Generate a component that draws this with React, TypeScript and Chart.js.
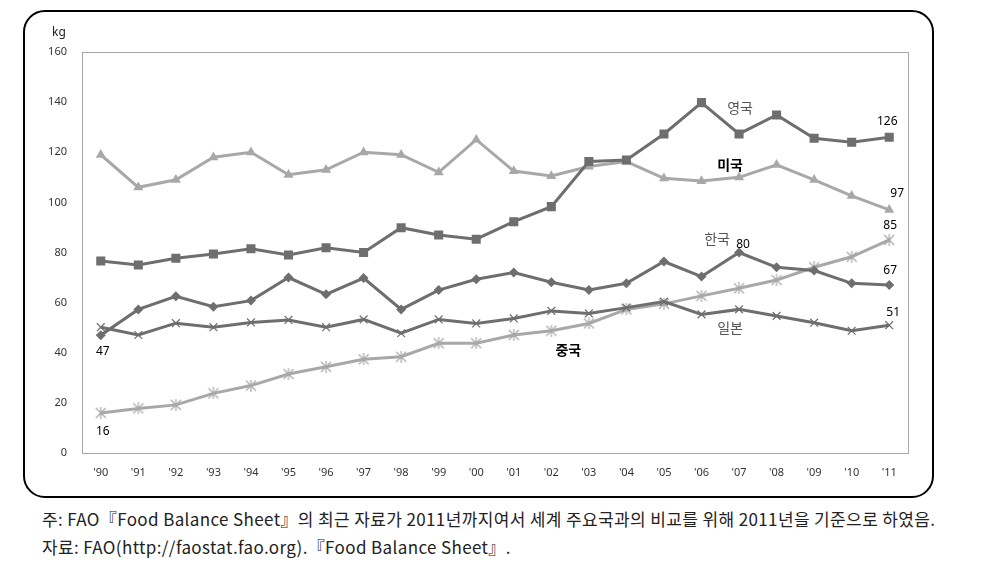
import React, { useEffect, useRef } from "react";
import { Chart, registerables } from "chart.js";

Chart.register(...registerables);

const years = ["'90","'91","'92","'93","'94","'95","'96","'97","'98","'99","'00","'01","'02","'03","'04","'05","'06","'07","'08","'09","'10","'11"];
const yTicks = [0, 20, 40, 60, 80, 100, 120, 140, 160];

const uk = [76.6, 75, 77.7, 79.4, 81.5, 79, 81.9, 80, 89.9, 87, 85.3, 92.3, 98.3, 116.3, 116.9, 127.3, 139.8, 127.3, 134.9, 125.6, 124, 126];
const us = [119, 106, 109, 118, 120, 111, 113, 120, 119, 112, 125, 112.5, 110.5, 114.3, 116.3, 109.6, 108.5, 110, 115, 109, 102.6, 97];
const korea = [47, 57.3, 62.5, 58.4, 60.8, 70, 63.3, 69.8, 57.3, 65, 69.3, 72, 68.1, 65, 67.7, 76.4, 70.4, 80, 74.1, 72.8, 67.7, 67];
const japan = [50.2, 47.1, 51.8, 50.2, 52.1, 53.1, 50.2, 53.3, 47.8, 53.3, 51.7, 53.7, 56.7, 55.7, 58, 60.4, 55.3, 57.3, 54.7, 52, 48.8, 51];
const china = [16, 17.8, 19.2, 23.8, 26.9, 31.5, 34.4, 37.4, 38.4, 43.8, 43.8, 47.1, 48.8, 51.7, 57.3, 59.5, 62.7, 65.7, 69, 74.1, 78.3, 85];

const DARK = "#6e6e6e";
const LIGHT = "#a8a8a8";

// annotation labels: dataset index, point index, text, offsets
const labels = [
  { ds: 0, i: 17, text: "영국", dx: 1, dy: -26, bold: false, color: "#555", kr: true },
  { ds: 1, i: 17, text: "미국", dx: -9, dy: -13, bold: true, color: "#000", kr: true },
  { ds: 2, i: 17, text: "한국", dx: -22, dy: -14, bold: false, color: "#555", kr: true },
  { ds: 2, i: 17, text: "80", dx: 4, dy: -8, bold: false, color: "#000", kr: false },
  { ds: 3, i: 17, text: "일본", dx: -9, dy: 18, bold: false, color: "#555", kr: true },
  { ds: 4, i: 12, text: "중국", dx: 17, dy: 19, bold: true, color: "#000", kr: true },
  { ds: 0, i: 21, text: "126", dx: -2, dy: -16, bold: false, color: "#000", kr: false },
  { ds: 1, i: 21, text: "97", dx: 8, dy: -16, bold: false, color: "#000", kr: false },
  { ds: 4, i: 21, text: "85", dx: 1, dy: -14, bold: false, color: "#000", kr: false },
  { ds: 2, i: 21, text: "67", dx: 1, dy: -15, bold: false, color: "#000", kr: false },
  { ds: 3, i: 21, text: "51", dx: 4, dy: -13, bold: false, color: "#000", kr: false },
  { ds: 2, i: 0, text: "47", dx: 2, dy: 16, bold: false, color: "#000", kr: false },
  { ds: 4, i: 0, text: "16", dx: 2, dy: 19, bold: false, color: "#000", kr: false },
];

function makeAsterisk(color: string, size: number) {
  const c = document.createElement("canvas");
  c.width = size;
  c.height = size;
  const ctx = c.getContext("2d")!;
  ctx.strokeStyle = color;
  ctx.lineWidth = 1.2;
  const m = 1;
  ctx.beginPath();
  ctx.moveTo(m, m);
  ctx.lineTo(size - m, size - m);
  ctx.moveTo(size - m, m);
  ctx.lineTo(m, size - m);
  ctx.moveTo(size / 2, 0);
  ctx.lineTo(size / 2, size);
  ctx.stroke();
  return c;
}

const framePlugin = {
  id: "framePlugin",
  beforeDatasetsDraw(chart: any) {
    const { ctx, chartArea } = chart;
    ctx.save();
    ctx.strokeStyle = "#a6a6a6";
    ctx.lineWidth = 1;
    ctx.strokeRect(Math.round(chartArea.left) + 0.5, Math.round(chartArea.top) + 0.5, Math.round(chartArea.right - chartArea.left), Math.round(chartArea.bottom - chartArea.top));
    ctx.restore();
  },
  afterDatasetsDraw(chart: any) {
    const { ctx, chartArea } = chart;
    ctx.save();
    ctx.textAlign = "center";
    ctx.textBaseline = "middle";
    ctx.fillStyle = "#222";
    ctx.font = "12px 'Noto Sans', sans-serif";
    ctx.fillText("kg", chartArea.left - 23, chartArea.top - 19);
    for (const l of labels) {
      const pt = chart.getDatasetMeta(l.ds).data[l.i];
      if (!pt) continue;
      ctx.fillStyle = l.color;
      ctx.font = (l.bold ? "bold " : "") + (l.kr ? "14px 'Noto Sans CJK KR', sans-serif" : "12px 'Noto Sans', sans-serif");
      ctx.fillText(l.text, pt.x + l.dx, pt.y + l.dy);
    }
    ctx.restore();
  },
};

export default function App() {
  const ref = useRef<HTMLCanvasElement>(null);
  useEffect(() => {
    if (!ref.current) return;
    const chinaStar = makeAsterisk(LIGHT, 12);
    const chart = new Chart(ref.current, {
      type: "line",
      data: {
        labels: years,
        datasets: [
          { label: "영국", data: uk, borderColor: DARK, backgroundColor: DARK, borderWidth: 3, pointStyle: "rect", pointRadius: 6.4, pointBorderWidth: 0 },
          { label: "미국", data: us, borderColor: LIGHT, backgroundColor: LIGHT, borderWidth: 3, pointStyle: "triangle", pointRadius: 5.8, pointBorderWidth: 0 },
          { label: "한국", data: korea, borderColor: DARK, backgroundColor: DARK, borderWidth: 3, pointStyle: "rectRot", pointRadius: 5, pointBorderWidth: 0 },
          { label: "일본", data: japan, borderColor: DARK, backgroundColor: DARK, borderWidth: 3, pointStyle: "crossRot", pointRadius: 5.5, pointBorderWidth: 1.2, pointBorderColor: DARK },
          { label: "중국", data: china, borderColor: LIGHT, backgroundColor: LIGHT, borderWidth: 3, pointStyle: chinaStar as any, pointRadius: 6 },
        ],
      },
      options: {
        animation: false,
        responsive: false,
        maintainAspectRatio: false,
        layout: { padding: { top: 52, right: 74, left: 30, bottom: 20 } },
        plugins: { legend: { display: false }, tooltip: { enabled: false } },
        elements: { line: { tension: 0 } },
        scales: {
          x: {
            offset: true,
            grid: { display: false, drawTicks: false },
            border: { display: false },
            ticks: { padding: 13, color: "#333", font: { size: 11, family: "'Noto Sans', sans-serif" }, maxRotation: 0, autoSkip: false },
            afterFit(scale: any) { scale.height = 27; },
          },
          y: {
            min: 0,
            max: 160,
            grid: { display: false, drawTicks: false },
            border: { display: false },
            afterBuildTicks(scale: any) { scale.ticks = yTicks.map((v) => ({ value: v })); },
            ticks: { padding: 15, color: "#333", font: { size: 11, family: "'Noto Sans', sans-serif" } },
            afterFit(scale: any) { scale.width = 52; },
          },
        },
      },
      plugins: [framePlugin],
    });
    return () => chart.destroy();
  }, []);

  const noteStyle: React.CSSProperties = {
    position: "absolute",
    left: 42,
    fontFamily: "'Noto Sans CJK KR', sans-serif",
    fontSize: 17,
    letterSpacing: "0.37px",
    color: "#222",
    whiteSpace: "nowrap",
    lineHeight: "22px",
  };

  return (
    <div style={{ position: "fixed", left: 0, top: 0, width: 982, height: 581, background: "#fff", overflow: "hidden" }}>
      <div style={{ position: "absolute", left: 23, top: 10, width: 907, height: 484, border: "2px solid #000", borderRadius: 22 }} />
      <canvas ref={ref} width={982} height={500} style={{ position: "absolute", left: 0, top: 0, width: 982, height: 500 }} />
      <div style={{ ...noteStyle, top: 508 }}>주: FAO『Food Balance Sheet』의 최근 자료가 2011년까지여서 세계 주요국과의 비교를 위해 2011년을 기준으로 하였음.</div>
      <div style={{ ...noteStyle, top: 536 }}>자료: FAO(http://faostat.fao.org).『Food Balance Sheet』.</div>
    </div>
  );
}
